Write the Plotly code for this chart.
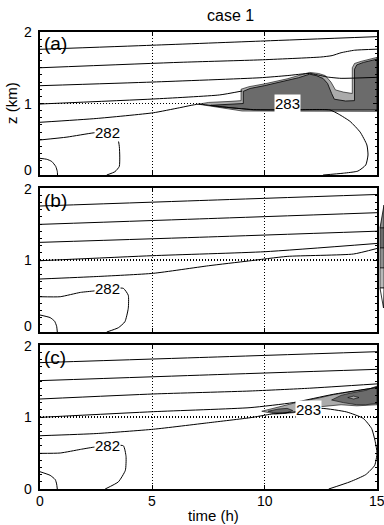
import plotly.graph_objects as go

W, H = 384, 525
T_TICKS = [0, 5, 10, 15]
Z_TICKS = [0, 1, 2]
PANEL_LABELS = ["(a)", "(b)", "(c)"]
TITLE = "case 1"

# ---------------- panel (a) contours (t [h], z [km]) ----------------
a_l1 = [(0, 1.758), (5, 1.815), (10, 1.875), (15, 1.935)]
a_l2 = [(0, 1.50), (6.23, 1.576), (9.79, 1.61), (12.5, 1.65), (13.0, 1.67),
        (13.4, 1.71), (14.0, 1.745), (15, 1.76)]
a_l3 = [(0, 1.249), (5, 1.30), (9.79, 1.36), (11, 1.39), (12.0, 1.42),
        (12.5, 1.39), (12.8, 1.37), (13.4, 1.352), (15, 1.366)]
a_l4 = [(0, 0.993), (5.04, 1.063), (8.0, 1.12), (9.0, 1.175)]
a_283 = [(0, 0.737), (2.5, 0.79), (5.04, 0.87), (6.2, 0.94), (7.05, 0.99),
         (8, 0.955), (9.5, 0.915), (11, 0.91), (12.9, 0.91), (13.3, 0.85),
         (13.8, 0.75), (14.25, 0.6), (14.55, 0.42), (14.6, 0.28), (14.5, 0.14),
         (14.15, 0.055), (13.5, 0.025), (12.6, 0.0)]
a_282 = [(0, 0.49), (1.2, 0.53), (2.4, 0.59), (3.0, 0.6), (3.45, 0.52),
         (3.53, 0.40), (3.55, 0.25), (3.53, 0.12), (3.34, 0.047), (2.97, 0.0)]
a_281 = [(0, 0.233), (0.3, 0.22), (0.52, 0.19), (0.7, 0.12), (0.77, 0.05), (0.78, 0.0)]
a_light = [(7.05, 0.99), (7.5, 1.015), (8.5, 1.03), (8.95, 1.04), (8.95, 1.2),
           (9.3, 1.235), (10, 1.275), (11, 1.345), (12, 1.435), (12.4, 1.42),
           (12.7, 1.39), (12.95, 1.30), (13.15, 1.19), (13.5, 1.16), (13.9, 1.14),
           (13.9, 1.50), (14.0, 1.56), (14.3, 1.59), (15, 1.645), (15, 0.89),
           (9, 0.895), (7.5, 0.96), (7.05, 0.99)]
a_dark = [(7.6, 0.975), (8.5, 0.99), (9.05, 1.0), (9.05, 1.17), (9.35, 1.21),
          (10, 1.25), (10.7, 1.30), (11.5, 1.36), (12.0, 1.41), (12.3, 1.39),
          (12.6, 1.35), (12.8, 1.28), (12.98, 1.14), (13.1, 1.06), (13.6, 1.035),
          (14.0, 1.04), (14.0, 1.48), (14.1, 1.54), (14.4, 1.575), (15, 1.62),
          (15, 0.91), (9.5, 0.91), (8.5, 0.94), (7.6, 0.975)]

# ---------------- panel (b) ----------------
b_l1 = [(0, 1.75), (7.5, 1.83), (15, 1.91)]
b_l2 = [(0, 1.495), (7.5, 1.575), (15, 1.657)]
b_l3 = [(0, 1.245), (7.5, 1.32), (15, 1.40)]
b_l4 = [(0, 0.99), (5, 1.06), (10, 1.115), (15, 1.23)]
b_283 = [(0, 0.736), (2.5, 0.77), (5.04, 0.815), (7.5, 0.92), (9.27, 0.986),
         (11, 1.05), (13.95, 1.083), (15, 1.16)]
b_282 = [(0, 0.49), (0.9, 0.49), (1.8, 0.55), (2.4, 0.57), (3.0, 0.6),
         (3.71, 0.606), (3.93, 0.51), (3.93, 0.33), (3.78, 0.143), (3.49, 0.06), (2.97, 0.0)]
b_281 = [(0, 0.236), (0.45, 0.20), (0.65, 0.15), (0.74, 0.08), (0.77, 0.0)]

# ---------------- panel (c) ----------------
c_l1 = [(0, 1.755), (7.5, 1.83), (15, 1.907)]
c_l2 = [(0, 1.505), (7.5, 1.585), (15, 1.662)]
c_l3 = [(0, 1.25), (5.05, 1.32), (9.35, 1.361), (12, 1.40), (15, 1.46)]
c_l4 = [(0, 0.995), (5.05, 1.074), (9.35, 1.13), (11.27, 1.20), (13.05, 1.315), (15, 1.41)]
c_283 = [(0, 0.74), (2.5, 0.77), (5.05, 0.83), (7.5, 0.92), (9.35, 0.99),
         (10.3, 1.04), (11.3, 1.07), (12.54, 1.12), (13.65, 1.07), (14.39, 0.98),
         (14.76, 0.84), (14.92, 0.66), (15, 0.5), (14.9, 0.33), (14.5, 0.2),
         (13.8, 0.1), (12.85, 0.0)]
c_282 = [(0, 0.495), (0.9, 0.50), (1.8, 0.55), (2.37, 0.58), (3.0, 0.6),
         (3.71, 0.6), (3.83, 0.45), (3.8, 0.26), (3.49, 0.10), (2.9, 0.0)]
c_281 = [(0, 0.24), (0.45, 0.19), (0.68, 0.13), (0.74, 0.07), (0.77, 0.0)]
c_light = [(9.87, 1.08), (10.5, 1.13), (11.27, 1.19), (12.5, 1.27), (13.05, 1.31),
           (14, 1.36), (15, 1.41), (15, 1.17), (14.1, 1.155), (13.4, 1.17),
           (12.9, 1.16), (12.4, 1.14), (11.3, 1.06), (10.5, 1.04), (9.87, 1.08)]
c_dark1 = [(10.15, 1.08), (10.6, 1.11), (11.0, 1.12), (11.25, 1.09), (10.9, 1.05),
           (10.4, 1.06), (10.15, 1.08)]
c_dark2 = [(12.98, 1.236), (13.4, 1.30), (13.8, 1.33), (14.5, 1.37), (15, 1.43),
           (15, 1.19), (14.5, 1.17), (14.1, 1.17), (13.5, 1.2), (12.98, 1.236)]
c_hole = [(13.7, 1.27), (13.96, 1.29), (14.2, 1.27), (13.96, 1.25), (13.7, 1.27)]

# contour label positions (t, z)
a_labels = [("282", 3.0, 0.59), ("283", 11.0, 1.0)]
b_labels = [("282", 3.0, 0.61)]
c_labels = [("282", 3.0, 0.61), ("283", 11.95, 1.10)]

DARK = "#6b6b6b"
LIGHT = "#ababab"
FONT = "Liberation Sans Narrow, Liberation Sans, Arial"

fig = go.Figure()

def ax_names(n):
    return ("x", "y") if n == 1 else (f"x{n}", f"y{n}")

def add_line(pts, n):
    xs, ys = zip(*pts)
    xa, ya = ax_names(n)
    fig.add_trace(go.Scatter(x=xs, y=ys, mode="lines",
                             line=dict(color="black", width=1, shape="spline", smoothing=0.5),
                             xaxis=xa, yaxis=ya, hoverinfo="skip", showlegend=False))

def add_fill(pts, n, color, lw=0.8):
    xs, ys = zip(*pts)
    xa, ya = ax_names(n)
    fig.add_trace(go.Scatter(x=xs, y=ys, mode="lines", fill="toself", fillcolor=color,
                             line=dict(color="black", width=lw),
                             xaxis=xa, yaxis=ya, hoverinfo="skip", showlegend=False))

# panel a
add_fill(a_light, 1, LIGHT, 0.6)
add_fill(a_dark, 1, DARK, 0.8)
for l in (a_l1, a_l2, a_l3, a_l4, a_283, a_282, a_281):
    add_line(l, 1)
# panel b
for l in (b_l1, b_l2, b_l3, b_l4, b_283, b_282, b_281):
    add_line(l, 2)
# panel c
add_fill(c_light, 3, LIGHT, 0.6)
add_fill(c_dark1, 3, DARK, 0.6)
add_fill(c_dark2, 3, DARK, 0.6)
add_fill(c_hole, 3, LIGHT, 0.6)
for l in (c_l1, c_l2, c_l3, c_l4, c_283, c_282, c_281):
    add_line(l, 3)

def px(x):
    return x / W

def py(y):
    return 1 - y / H

X0, X1 = 40, 377
XDOM = [px(X0), px(X1)]
YDOMS = [[py(175), py(32)], [py(332), py(188)], [py(489), py(345)]]

layout = dict(width=W, height=H, margin=dict(l=0, r=0, t=0, b=0, autoexpand=False),
              paper_bgcolor="white", plot_bgcolor="white", showlegend=False,
              font=dict(family=FONT, color="black", size=13))

for i in range(3):
    n = i + 1
    xk = "xaxis" if n == 1 else f"xaxis{n}"
    yk = "yaxis" if n == 1 else f"yaxis{n}"
    xa, ya = ax_names(n)
    layout[xk] = dict(domain=XDOM, range=[0, 15], anchor=ya,
                      showline=True, linecolor="black", linewidth=2, mirror="ticks",
                      ticks="inside", ticklen=4, tickwidth=1, tickcolor="black",
                      tickvals=T_TICKS, showticklabels=False,
                      showgrid=True, gridcolor="black", griddash="1px,2px", gridwidth=1.2,
                      zeroline=False, layer="above traces", fixedrange=True)
    layout[yk] = dict(domain=YDOMS[i], range=[0, 2], anchor=xa,
                      showline=True, linecolor="black", linewidth=2, mirror="ticks",
                      ticks="inside", ticklen=4, tickwidth=1, tickcolor="black",
                      tickvals=Z_TICKS, showticklabels=False,
                      minor=dict(ticks="inside", ticklen=2, dtick=0.1, tickcolor="black", showgrid=False),
                      showgrid=True, gridcolor="black", griddash="1px,2px", gridwidth=1.2,
                      zeroline=False, layer="above traces", fixedrange=True)

anns = []
for n, labs in ((1, a_labels), (2, b_labels), (3, c_labels)):
    xa, ya = ax_names(n)
    for txt, t, z in labs:
        anns.append(dict(text=txt, x=t, y=z, xref=xa, yref=ya, showarrow=False,
                         bgcolor="white", borderpad=0, font=dict(size=15, family=FONT)))

# y tick labels, placed like the reference (stacked where panels meet)
ytick_pos = [  # (text, y pixel, anchor)
    ("2", 32, "middle"), ("1", 103.5, "middle"), ("0", 180, "bottom"),
    ("2", 179, "top"), ("1", 260, "middle"), ("0", 336, "bottom"),
    ("2", 336, "top"), ("1", 417, "middle"), ("0", 489, "middle"),
]
for txt, yp, anc in ytick_pos:
    anns.append(dict(text=txt, x=px(34), y=py(yp), xref="paper", yref="paper",
                     xanchor="right", yanchor=anc, showarrow=False,
                     font=dict(size=14, family=FONT)))

# x tick labels under panel (c)
for v in T_TICKS:
    xp = X0 + (X1 - X0) * v / 15
    anns.append(dict(text=str(v), x=px(xp), y=py(501), xref="paper", yref="paper",
                     xanchor="center", yanchor="middle",
                     showarrow=False, font=dict(size=14, family=FONT)))

for i, lab in enumerate(PANEL_LABELS):
    anns.append(dict(text=lab, x=px(42), y=py([44, 200, 357][i]), xref="paper", yref="paper",
                     xanchor="left", yanchor="middle", showarrow=False,
                     font=dict(size=19, family=FONT)))
anns.append(dict(text=TITLE, x=px(230), y=py(15), xref="paper", yref="paper",
                 xanchor="center", yanchor="middle",
                 showarrow=False, font=dict(size=16, family=FONT)))
anns.append(dict(text="time (h)", x=px(213), y=py(515), xref="paper", yref="paper",
                 xanchor="center", yanchor="middle",
                 showarrow=False, font=dict(size=15, family=FONT)))
anns.append(dict(text="z (km)", x=px(11), y=py(103), xref="paper", yref="paper",
                 xanchor="center", yanchor="middle",
                 textangle=-90, showarrow=False, font=dict(size=15, family=FONT)))
layout["annotations"] = anns

# partial colour key visible at the right edge of panel (b)
shapes = []
def ppath(pts):
    return "M " + " L ".join(f"{px(x):.5f},{py(y):.5f}" for x, y in pts) + " Z"
shapes.append(dict(type="path", xref="paper", yref="paper", path=ppath([(384, 205), (380, 228), (384, 228)]),
                   fillcolor="#8a8a8a", line=dict(color="black", width=0.8)))
for (y0, y1, c) in ((228, 248, "#6b6b6b"), (248, 268, "#8e8e8e"), (268, 288, "#b8b8b8")):
    shapes.append(dict(type="rect", xref="paper", yref="paper", x0=px(380), x1=px(384),
                       y0=py(y1), y1=py(y0), fillcolor=c, line=dict(color="black", width=0.6)))
shapes.append(dict(type="path", xref="paper", yref="paper", path=ppath([(380, 288), (384, 288), (383.5, 308)]),
                   fillcolor="white", line=dict(color="black", width=0.8)))
layout["shapes"] = shapes

fig.update_layout(**layout)
fig.write_html("out.html", config={"displayModeBar": False, "staticPlot": True},
               post_script="document.body.style.margin='0px';document.body.style.overflow='hidden';")
